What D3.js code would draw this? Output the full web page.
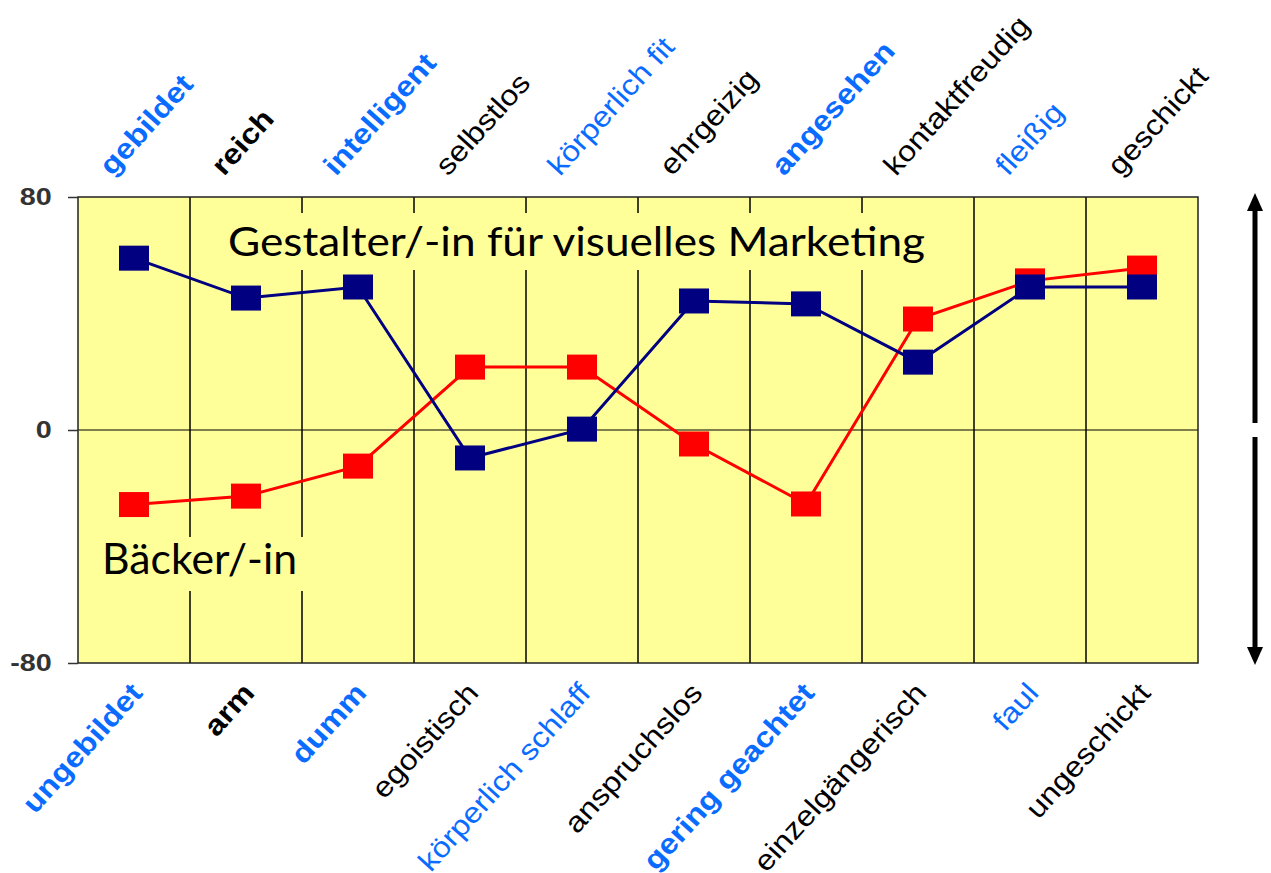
<!DOCTYPE html>
<html>
<head>
<meta charset="utf-8">
<script src="https://cdn.jsdelivr.net/npm/d3@7"></script>
<style>
  body { margin: 0; background: #fff; }
  svg { display: block; }
</style>
</head>
<body>
<div id="grafico"></div>
<script>
// polaritaetsprofil: Bäcker/-in vs. Gestalter/-in
const oben = ["gebildet", "reich", "intelligent", "selbstlos", "körperlich fit",
              "ehrgeizig", "angesehen", "kontaktfreudig", "fleißig", "geschickt"];
const unten = ["ungebildet", "arm", "dumm", "egoistisch", "körperlich schlaff",
               "anspruchslos", "gering geachtet", "einzelgängerisch", "faul", "ungeschickt"];
const gestalter = [59, 45.3, 49.1, -9.6, 0.3, 44.3, 43.3, 23.3, 49.1, 49.1];
const baecker = [-25.6, -22.7, -12.4, 21.6, 21.6, -4.8, -25.4, 38.1, 51.2, 55.6];
const yTicks = [-80, 0, 80];
const serien = ["Bäcker/-in", "Gestalter/-in für visuelles Marketing"];
// label style per pair (same for top and bottom)
const labelStil = ["fettBlau", "fett", "fettBlau", "normal", "blau",
                   "normal", "fettBlau", "normal", "blau", "normal"];

const W = 1271, H = 873;
const plot = { left: 78, right: 1198, top: 197, bottom: 663 };

const svg = d3.select("#grafico").append("svg")
    .attr("width", W).attr("height", H);

const x = d3.scaleBand()
    .domain(d3.range(oben.length))
    .range([plot.left, plot.right])
    .padding(0);

const y = d3.scaleLinear()
    .domain([-80, 80])
    .range([plot.bottom, plot.top]);

const cx = i => x(i) + x.bandwidth() / 2;

// plot area
svg.append("rect")
    .attr("x", plot.left).attr("y", plot.top)
    .attr("width", plot.right - plot.left).attr("height", plot.bottom - plot.top)
    .attr("fill", "#ffff99");

// vertical gridlines between categories
svg.append("g").selectAll("line")
    .data(d3.range(1, oben.length))
    .enter().append("line")
    .attr("x1", d => x(d)).attr("x2", d => x(d))
    .attr("y1", plot.top).attr("y2", plot.bottom)
    .attr("stroke", "#000").attr("stroke-width", 1.5);

// zero line
svg.append("line")
    .attr("x1", plot.left).attr("x2", plot.right)
    .attr("y1", y(0)).attr("y2", y(0))
    .attr("stroke", "#000").attr("stroke-width", 1.2);

// annotation boxes (hide gridlines behind the text)
const annot = svg.append("g");
annot.append("rect")
    .attr("x", 218).attr("y", 213).attr("width", 718).attr("height", 57)
    .attr("fill", "#ffff99");
annot.append("rect")
    .attr("x", 95).attr("y", 537).attr("width", 211).attr("height", 54)
    .attr("fill", "#ffff99");

// border
svg.append("rect")
    .attr("x", plot.left).attr("y", plot.top)
    .attr("width", plot.right - plot.left).attr("height", plot.bottom - plot.top)
    .attr("fill", "none").attr("stroke", "#222").attr("stroke-width", 1.5);

// y axis
const yAxis = svg.append("g")
    .attr("transform", `translate(${plot.left},0)`)
    .call(d3.axisLeft(y).tickValues(yTicks).tickSize(10).tickPadding(11)
        .tickFormat(d => String(d)));
yAxis.select(".domain").remove();
yAxis.selectAll(".tick line").attr("stroke", "#333").attr("stroke-width", 1.5);
yAxis.selectAll("text")
    .attr("font-family", "Liberation Sans, Arial, sans-serif")
    .attr("font-size", "23px")
    .attr("font-weight", "bold")
    .attr("fill", "#333")
    .attr("transform", "scale(1.25,1)");

// series
const linie = d3.line().x((d, i) => cx(i)).y(d => y(d));

function zeichneSerie(werte, farbe) {
    const g = svg.append("g");
    g.append("path")
        .datum(werte)
        .attr("d", linie)
        .attr("fill", "none")
        .attr("stroke", farbe)
        .attr("stroke-width", 3);
    g.selectAll("rect")
        .data(werte)
        .enter().append("rect")
        .attr("x", (d, i) => cx(i) - 15)
        .attr("y", d => y(d) - 12.5)
        .attr("width", 30).attr("height", 25)
        .attr("fill", farbe);
}
zeichneSerie(baecker, "#ff0000");
zeichneSerie(gestalter, "#000080");

// series labels
annot.append("text")
    .attr("x", 228).attr("y", 256)
    .attr("font-family", "Lato, Open Sans, sans-serif")
    .attr("font-size", "40px")
    .attr("textLength", 697).attr("lengthAdjust", "spacingAndGlyphs")
    .attr("fill", "#000")
    .text(serien[1]);
annot.append("text")
    .attr("x", 102).attr("y", 574)
    .attr("font-family", "Lato, Open Sans, sans-serif")
    .attr("font-size", "43px")
    .attr("textLength", 195).attr("lengthAdjust", "spacingAndGlyphs")
    .attr("fill", "#000")
    .text(serien[0]);

// category labels
const farbe = s => (s === "fettBlau" || s === "blau") ? "#0a6cff" : "#000";
const gewicht = s => (s === "fettBlau" || s === "fett") ? "bold" : "normal";

function labels(texte, anker, px, py) {
    svg.append("g").selectAll("text")
        .data(texte)
        .enter().append("text")
        .attr("transform", (d, i) => `translate(${cx(i) + px},${py}) rotate(-48) scale(1.13,1)`)
        .attr("text-anchor", anker)
        .attr("font-family", "Liberation Sans, Arial, sans-serif")
        .attr("font-size", "28.5px")
        .attr("font-weight", (d, i) => gewicht(labelStil[i]))
        .attr("fill", (d, i) => farbe(labelStil[i]))
        .text(d => d);
}
labels(oben, "start", -22, plot.top - 20);
labels(unten, "end", 10, plot.bottom + 31);

// double arrow on the right
const ax = 1255;
const pfeil = svg.append("g").attr("fill", "#000").attr("stroke", "#000");
pfeil.append("line")
    .attr("x1", ax).attr("x2", ax)
    .attr("y1", y(80) + 10).attr("y2", y(0) - 7)
    .attr("stroke-width", 5);
pfeil.append("line")
    .attr("x1", ax).attr("x2", ax)
    .attr("y1", y(0) + 7).attr("y2", y(-80) - 10)
    .attr("stroke-width", 5);
pfeil.append("path")
    .attr("stroke", "none")
    .attr("d", `M${ax},${y(80) - 4} L${ax - 8},${y(80) + 14} L${ax + 8},${y(80) + 14} Z`);
pfeil.append("path")
    .attr("stroke", "none")
    .attr("d", `M${ax},${y(-80) + 2} L${ax - 8},${y(-80) - 16} L${ax + 8},${y(-80) - 16} Z`);
</script>
</body>
</html>
